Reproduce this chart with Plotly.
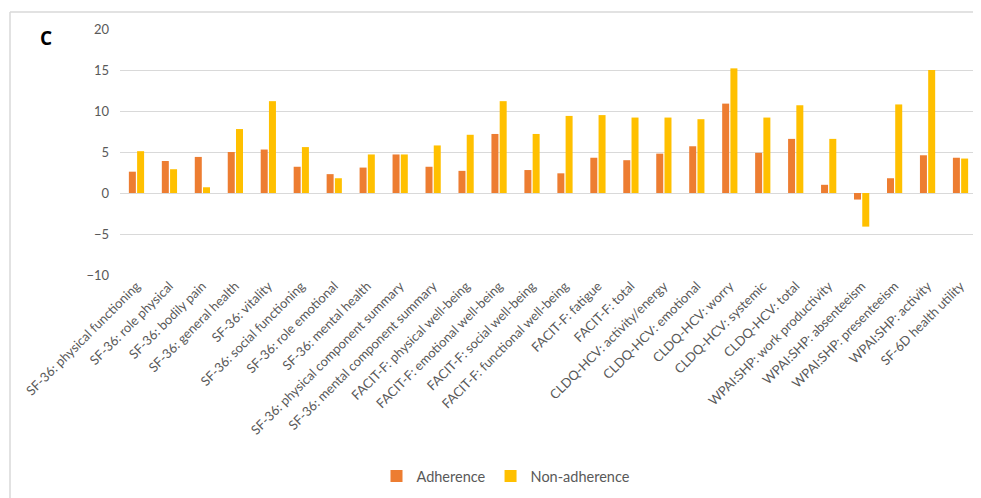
import plotly.graph_objects as go

categories = [
    "SF-36: physical functioning", "SF-36: role physical", "SF-36: bodily pain",
    "SF-36: general health", "SF-36: vitality", "SF-36: social functioning",
    "SF-36: role emotional", "SF-36: mental health",
    "SF-36: physical component summary", "SF-36: mental component summary",
    "FACIT-F: physical well-being", "FACIT-F: emotional well-being",
    "FACIT-F: social well-being", "FACIT-F: functional well-being",
    "FACIT-F: fatigue", "FACIT-F: total",
    "CLDQ-HCV: activity/energy", "CLDQ-HCV: emotional", "CLDQ-HCV: worry",
    "CLDQ-HCV: systemic", "CLDQ-HCV: total",
    "WPAI:SHP: work productivity", "WPAI:SHP: absenteeism",
    "WPAI:SHP: presenteeism", "WPAI:SHP: activity", "SF-6D health utility",
]
adherence = [2.6, 3.9, 4.4, 5.0, 5.3, 3.2, 2.3, 3.1, 4.7, 3.2, 2.7, 7.2, 2.8,
             2.4, 4.3, 4.0, 4.8, 5.7, 10.9, 4.9, 6.6, 1.0, -0.8, 1.8, 4.6, 4.3]
non_adherence = [5.1, 2.9, 0.7, 7.8, 11.2, 5.6, 1.8, 4.7, 4.7, 5.8, 7.1, 11.2, 7.2,
                 9.4, 9.5, 9.2, 9.2, 9.0, 15.2, 9.2, 10.7, 6.6, -4.1, 10.8, 15.0, 4.2]
y_ticks = [-10, -5, 0, 5, 10, 15, 20]

font_family = "Lato, 'Open Sans', sans-serif"
grey = "#595959"

fig = go.Figure()
fig.add_trace(go.Bar(name="Adherence", x=categories, y=adherence,
                     marker=dict(color="#ED7D31", line=dict(width=0))))
fig.add_trace(go.Bar(name="Non-adherence", x=categories, y=non_adherence,
                     marker=dict(color="#FFC000", line=dict(width=0))))

OFF = 8  # page body margin
W, H = 981 - OFF, 498 - OFF
# target plot area in screenshot pixels: x 120..977, y 29..275
L = 120 - OFF
T = 29 - OFF
R = W - (977 - OFF)
B = H - (275 - OFF)
pw, ph = W - L - R, H - T - B

def px(x):
    return (x - OFF - L) / pw

def py(y):
    return (H - B - (y - OFF)) / ph

frame = dict(color="#d9d9d9", width=1.5)

fig.update_layout(
    width=W, height=H,
    margin=dict(l=L, r=R, t=T, b=B),
    paper_bgcolor="white", plot_bgcolor="white",
    barmode="group", bargap=0.5, bargroupgap=0.15,
    font=dict(family=font_family, color=grey, size=12),
    showlegend=True,
    legend=dict(orientation="h", x=px(506), xanchor="center", y=py(476), yanchor="middle",
                font=dict(size=14.5, color=grey), traceorder="normal", itemwidth=30),
    xaxis=dict(tickangle=-45, tickfont=dict(size=13, color=grey), showgrid=False,
               showline=False, ticks="", automargin=False),
    yaxis=dict(range=[-10, 20], tickvals=y_ticks, showgrid=True, gridcolor="#d9d9d9",
               gridwidth=1, zeroline=True, zerolinecolor="#d9d9d9", zerolinewidth=1,
               showline=False, ticks="", tickfont=dict(size=13, color=grey),
               ticklabelstandoff=10, automargin=False),
    shapes=[
        dict(type="line", xref="paper", yref="paper",
             x0=px(10), x1=px(981), y0=py(12), y1=py(12), line=frame, layer="below"),
        dict(type="line", xref="paper", yref="paper",
             x0=px(10), x1=px(10), y0=py(12), y1=py(498), line=frame, layer="below"),
    ],
    annotations=[dict(text="<b>C</b>", xref="paper", yref="paper", x=px(46), y=py(38),
                      xanchor="center", yanchor="middle", showarrow=False,
                      font=dict(size=19, color="black", family="'Open Sans', sans-serif"))],
)

fig.write_html("out.html")
